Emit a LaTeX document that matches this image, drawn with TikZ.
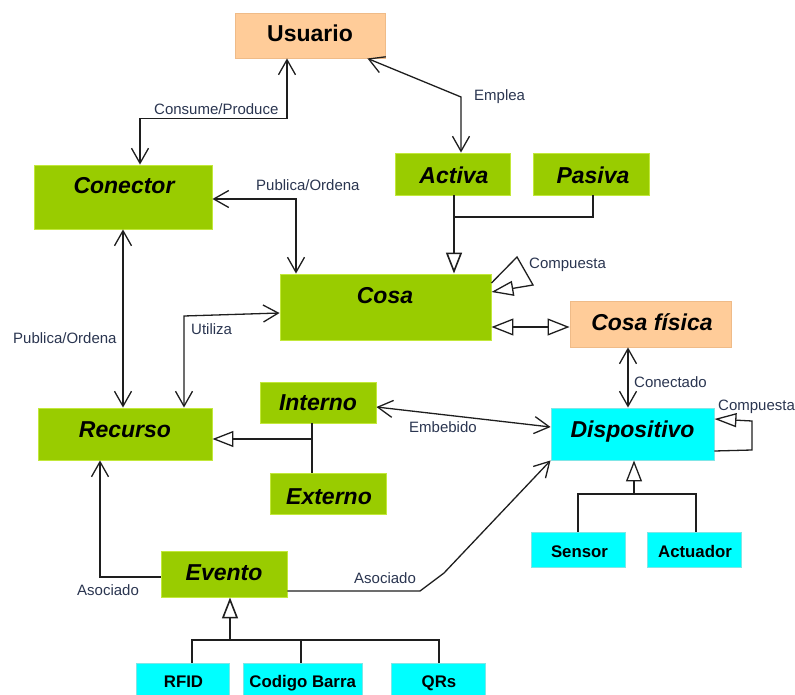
\documentclass[tikz,border=0pt]{standalone}
\usepackage{fontspec}
\setmainfont{Liberation Sans}
\usetikzlibrary{arrows.meta,shadows}

\definecolor{verde}{HTML}{99CC00}
\definecolor{verdeborde}{HTML}{C2E83A}
\definecolor{cian}{HTML}{00FFFF}
\definecolor{cianborde}{HTML}{7FE6E6}
\definecolor{durazno}{HTML}{FFCC99}
\definecolor{duraznoborde}{HTML}{EFBB88}
\definecolor{etiq}{HTML}{2A3550}
\definecolor{trazo}{HTML}{1E1E1E}

\tikzset{
  barb/.tip={Straight Barb[length=15pt,width=17pt]},
  hueco/.tip={Triangle[open,length=21pt,width=16pt,fill=white]},
  caja/.style={rectangle, inner sep=0pt, line width=0.9pt,
    drop shadow={shadow xshift=1.2pt, shadow yshift=-1.2pt, opacity=0.35, fill=gray}},
  verdebox/.style={caja, fill=verde, draw=verdeborde},
  cianbox/.style={caja, fill=cian, draw=cianborde},
  durazbox/.style={caja, fill=durazno, draw=duraznoborde},
  titulo/.style={font=\fontsize{23}{27}\selectfont\bfseries\itshape, anchor=base, inner sep=0pt},
  titulorecto/.style={font=\fontsize{23}{27}\selectfont\bfseries, anchor=base, inner sep=0pt},
  chico/.style={font=\fontsize{16.8}{20}\selectfont\bfseries, anchor=base, inner sep=0pt},
  etiqueta/.style={font=\fontsize{15}{18}\selectfont, text=etiq, anchor=base west, inner sep=0pt},
  linea/.style={draw=trazo, line width=1.3pt},
  asoc/.style={linea, barb-barb},
  asocuna/.style={linea, -barb},
  gen/.style={linea, -hueco},
}

\begin{document}
\begin{tikzpicture}[x=1pt,y=-1pt]
\useasboundingbox (0,0) rectangle (795,695);
\clip (0,0) rectangle (795,695);

% boxes
\node[durazbox, minimum width=150pt, minimum height=45pt] (usuario) at (310,35.5) {};
\node[verdebox, minimum width=178pt, minimum height=64pt] (conector) at (123,197) {};
\node[verdebox, minimum width=115pt, minimum height=42pt] (activa) at (452.5,174) {};
\node[verdebox, minimum width=116pt, minimum height=42pt] (pasiva) at (591,174) {};
\node[verdebox, minimum width=211pt, minimum height=66pt] (cosa) at (385.5,307) {};
\node[durazbox, minimum width=161pt, minimum height=46pt] (cosafis) at (650.5,324) {};
\node[verdebox, minimum width=174pt, minimum height=52pt] (recurso) at (125,434) {};
\node[verdebox, minimum width=116pt, minimum height=41pt] (interno) at (318,402.5) {};
\node[verdebox, minimum width=116pt, minimum height=41pt] (externo) at (328,493.5) {};
\node[cianbox, minimum width=163pt, minimum height=52pt] (dispositivo) at (632.5,434) {};
\node[verdebox, minimum width=126pt, minimum height=46pt] (evento) at (224,574) {};
\node[cianbox, minimum width=94pt, minimum height=35pt] (sensor) at (578,549.5) {};
\node[cianbox, minimum width=94pt, minimum height=35pt] (actuador) at (694,549.5) {};
\node[cianbox, minimum width=93pt, minimum height=36pt] (rfid) at (182.5,681) {};
\node[cianbox, minimum width=119pt, minimum height=36pt] (codigo) at (302.5,681) {};
\node[cianbox, minimum width=94pt, minimum height=36pt] (qrs) at (438,681) {};

% box titles
\node[titulorecto] (usuario-t) at (310,41.7) {Usuario};
\node[titulo] (conector-t) at (124,194) {Conector};
\node[titulo] (activa-t) at (454,184) {Activa};
\node[titulo] (pasiva-t) at (593,184) {Pasiva};
\node[titulo] (cosa-t) at (385,303) {Cosa};
\node[titulo] (cosafis-t) at (652,330) {Cosa física};
\node[titulo] (recurso-t) at (125,437) {Recurso};
\node[titulo] (interno-t) at (318,410) {Interno};
\node[titulo] (externo-t) at (329,504) {Externo};
\node[titulo] (dispositivo-t) at (632.5,437) {Dispositivo};
\node[titulo] (evento-t) at (224,580) {Evento};
\node[chico] (sensor-t) at (579.5,557) {Sensor};
\node[chico] (actuador-t) at (695,557) {Actuador};
\node[chico] (rfid-t) at (183.5,687) {RFID};
\node[chico] (codigo-t) at (302.7,687) {Codigo Barra};
\node[chico] (qrs-t) at (439,687) {QRs};

% associations
\draw[asoc] ([xshift=-23pt]usuario.south) -- ++(0,60) -| ([xshift=17pt]conector.north);
\draw[asoc] ([xshift=-18pt]usuario.south east) -- (461,97) -- ([xshift=8.5pt]activa.north);
\draw[asoc] ([yshift=-2pt]conector.east) -| ([xshift=-89.5pt]cosa.north);
\draw[asoc] (conector.south) -- (conector.south |- recurso.north);
\draw[asoc] ([xshift=59pt]recurso.north) -- (184,316) -- ([yshift=-6pt]cosa.west);
\draw[asoc] ([xshift=-22.5pt]cosafis.south) -- ([xshift=-22.5pt]cosafis.south |- dispositivo.north);
\draw[asoc] ([yshift=-4.5pt]interno.east) -- ([yshift=7pt]dispositivo.west);
\draw[asocuna] ([yshift=-3pt]evento.west) -| ([xshift=-25pt]recurso.south);
\draw[asocuna] ([yshift=-17pt]evento.east) -- (420,591) -- (444,573) -- (dispositivo.south west);

% Cosa <-> Cosa fisica
\draw[linea, {Triangle[open,length=22pt,width=17pt,fill=white]}-{Triangle[open,length=22pt,width=17pt,fill=white]}]
  ([yshift=-20pt]cosa.east) -- ([yshift=-20pt]cosa.east -| cosafis.west);

% self compositions
\draw[linea, -{Triangle[open,length=22pt,width=15pt,fill=white]}]
  ([yshift=24pt]cosa.east) -- (517,257) -- (533,285) -- ([yshift=15pt]cosa.east);
\draw[linea, -{Triangle[open,length=22pt,width=14pt,fill=white]}]
  ([yshift=-17pt]dispositivo.east) -- (752,450) -- (752,421) -- ([yshift=15pt]dispositivo.east);

% generalizations
\coordinate (jCosa) at (454,217);
\draw[linea] ([xshift=2pt]pasiva.south) |- (jCosa);
\draw[linea] ([xshift=1.5pt]activa.south) -- (jCosa);
\draw[gen, line width=1.6pt] (jCosa) -- (jCosa |- cosa.north);

\coordinate (jRec) at (312,439);
\draw[linea] ([xshift=-6pt]interno.south) -- ([xshift=-6pt]interno.south |- externo.north);
\draw[gen] (jRec) -- (jRec -| recurso.east);

\coordinate (jDis) at (634,494);
\draw[linea] (sensor.north) |- (jDis) -| ([xshift=2pt]actuador.north);
\draw[gen] (jDis) -- (jDis |- dispositivo.south);

\coordinate (jEv) at (230,640);
\draw[linea] ([xshift=9.5pt]rfid.north) |- ([xshift=1pt]qrs.north |- jEv) -- ([xshift=1pt]qrs.north);
\draw[linea] ([xshift=-1.5pt]codigo.north) -- ([xshift=-1.5pt]codigo.north |- jEv);
\draw[gen, line width=1.6pt] (jEv) -- (jEv |- evento.south);

% connector labels
\node[etiqueta] (l-consume) at (154,115) {Consume/Produce};
\node[etiqueta] (l-emplea) at (474,101) {Emplea};
\node[etiqueta] (l-pub1) at (256,191) {Publica/Ordena};
\node[etiqueta] (l-pub2) at (13,343) {Publica/Ordena};
\node[etiqueta] (l-utiliza) at (191,334) {Utiliza};
\node[etiqueta] (l-comp1) at (529,269) {Compuesta};
\node[etiqueta] (l-conectado) at (634,387) {Conectado};
\node[etiqueta] (l-embebido) at (409,432) {Embebido};
\node[etiqueta] (l-comp2) at (718,410) {Compuesta};
\node[etiqueta] (l-asoc1) at (77,595) {Asociado};
\node[etiqueta] (l-asoc2) at (354,583) {Asociado};
\end{tikzpicture}
\end{document}
